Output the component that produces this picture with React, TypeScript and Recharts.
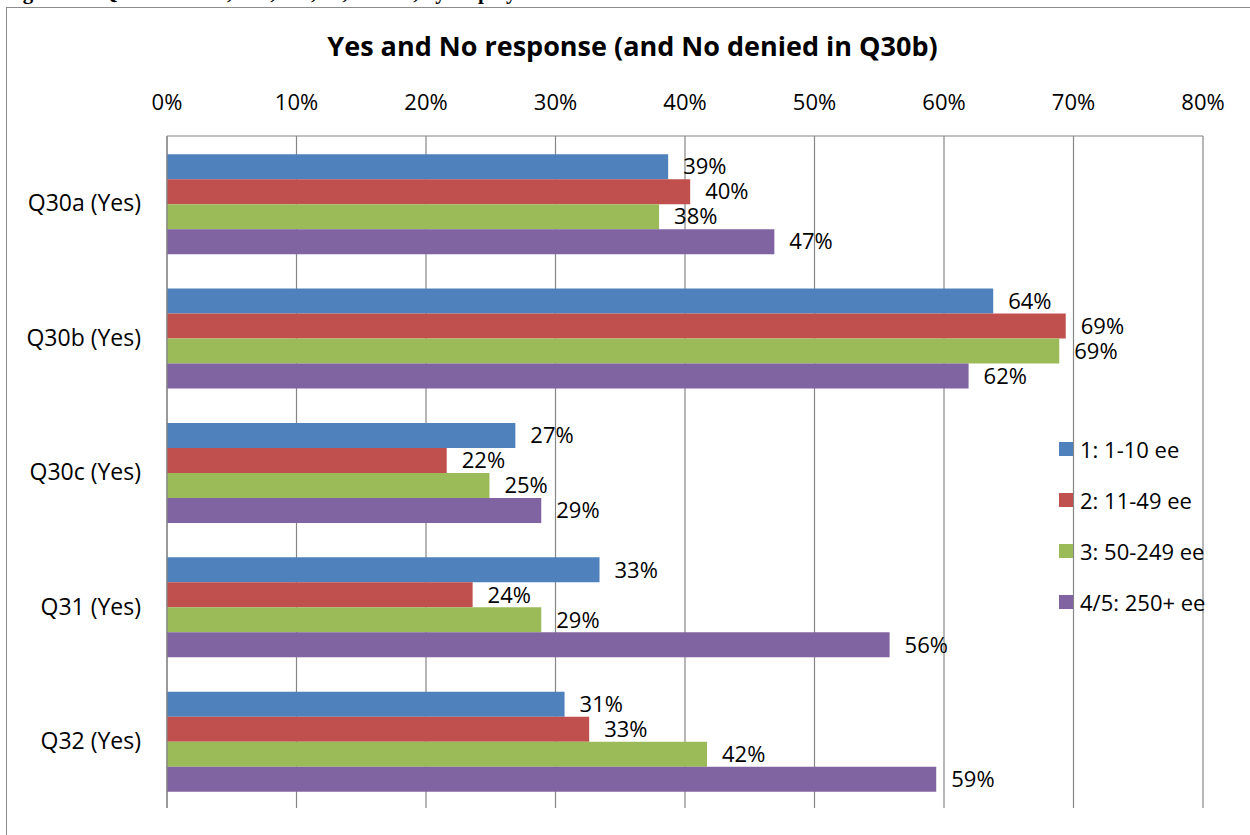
import React from "react";
import { BarChart, Bar, XAxis, YAxis, CartesianGrid, LabelList } from "recharts";

// categories and values (percent)
const categories = ["Q30a (Yes)", "Q30b (Yes)", "Q30c (Yes)", "Q31 (Yes)", "Q32 (Yes)"];
const size1 = [38.7, 63.8, 26.9, 33.4, 30.7];
const size2 = [40.4, 69.4, 21.6, 23.6, 32.6];
const size3 = [38.0, 68.9, 24.9, 28.9, 41.7];
const size45 = [46.9, 61.9, 28.9, 55.8, 59.4];
const xTicks = [0, 10, 20, 30, 40, 50, 60, 70, 80];

const seriesNames = ["1: 1-10 ee", "2: 11-49 ee", "3: 50-249 ee", "4/5: 250+ ee"];
const seriesColors = ["#4F81BD", "#C0504D", "#9BBB59", "#8064A2"];
const seriesKeys = ["s1", "s2", "s3", "s45"];

const chartData = categories.map((name, i) => ({
  name,
  s1: size1[i],
  s2: size2[i],
  s3: size3[i],
  s45: size45[i],
}));

const FONT = "'Open Sans', sans-serif";
const GRID = "#868686";

// legend sits on top of the plot, like in the original sheet
const LegendBox = () => (
  <div
    style={{
      position: "absolute",
      left: 1059,
      top: 423,
      fontFamily: FONT,
      fontSize: 22,
      color: "#000",
    }}
  >
    {seriesNames.map((n, i) => (
      <div key={n} style={{ display: "flex", alignItems: "center", height: 51 }}>
        <span
          style={{
            display: "inline-block",
            width: 14,
            height: 14,
            background: seriesColors[i],
            marginRight: 7,
          }}
        />
        <span style={{ whiteSpace: "nowrap" }}>{n}</span>
      </div>
    ))}
  </div>
);

export default function App() {
  const pct = (v: any) => `${Math.round(Number(v))}%`;

  return (
    <div style={{ position: "relative", width: 1250, height: 835, overflow: "hidden", background: "#fff" }}>
      <style>{`body{margin:0}`}</style>

      {/* caption of the page, mostly cut off at the top */}
      <div
        style={{
          position: "absolute",
          left: 4,
          top: -20,
          fontFamily: "'Liberation Serif', serif",
          fontWeight: "bold",
          fontSize: 21,
          whiteSpace: "nowrap",
        }}
      >
        Figure 14: Questions 30a, 30b, 30c, 31, and 32, by employer size
      </div>

      {/* chart frame */}
      <div
        style={{
          position: "absolute",
          left: 6,
          top: 7,
          width: 1300,
          height: 900,
          border: "1px solid #8c8c8c",
        }}
      />

      {/* title */}
      <div
        style={{
          position: "absolute",
          left: 0,
          top: 27,
          width: 1265,
          textAlign: "center",
          fontFamily: FONT,
          fontWeight: "bold",
          fontSize: 27,
          color: "#000",
        }}
      >
        Yes and No response (and No denied in Q30b)
      </div>

      <div style={{ position: "absolute", left: 0, top: 0 }}>
        <BarChart
          width={1250}
          height={835}
          data={chartData}
          layout="vertical"
          margin={{ top: 96, right: 47, bottom: 27, left: 7 }}
          barCategoryGap="13.5%"
          barGap={0}
        >
          <CartesianGrid horizontal={false} stroke={GRID} strokeWidth={1.2} />
          <XAxis
            type="number"
            orientation="top"
            domain={[0, 80]}
            ticks={xTicks}
            tickFormatter={(v) => `${v}%`}
            height={40}
            tickSize={0}
            tickMargin={26}
            axisLine={{ stroke: GRID, strokeWidth: 1.2 }}
            tick={{ fontFamily: FONT, fontSize: 22, fill: "#000" }}
          />
          <YAxis
            type="category"
            dataKey="name"
            width={160}
            interval={0}
            tickSize={0}
            tickMargin={26}
            axisLine={{ stroke: GRID, strokeWidth: 1.2 }}
            tick={{ fontFamily: FONT, fontSize: 23, fill: "#000" }}
          />
          {seriesKeys.map((k, i) => (
            <Bar key={k} dataKey={k} name={seriesNames[i]} fill={seriesColors[i]} isAnimationActive={false}>
              <LabelList
                dataKey={k}
                position="right"
                offset={15}
                formatter={pct}
                style={{ fontFamily: FONT, fontSize: 22, fill: "#000" }}
              />
            </Bar>
          ))}
        </BarChart>
      </div>

      <LegendBox />
    </div>
  );
}
